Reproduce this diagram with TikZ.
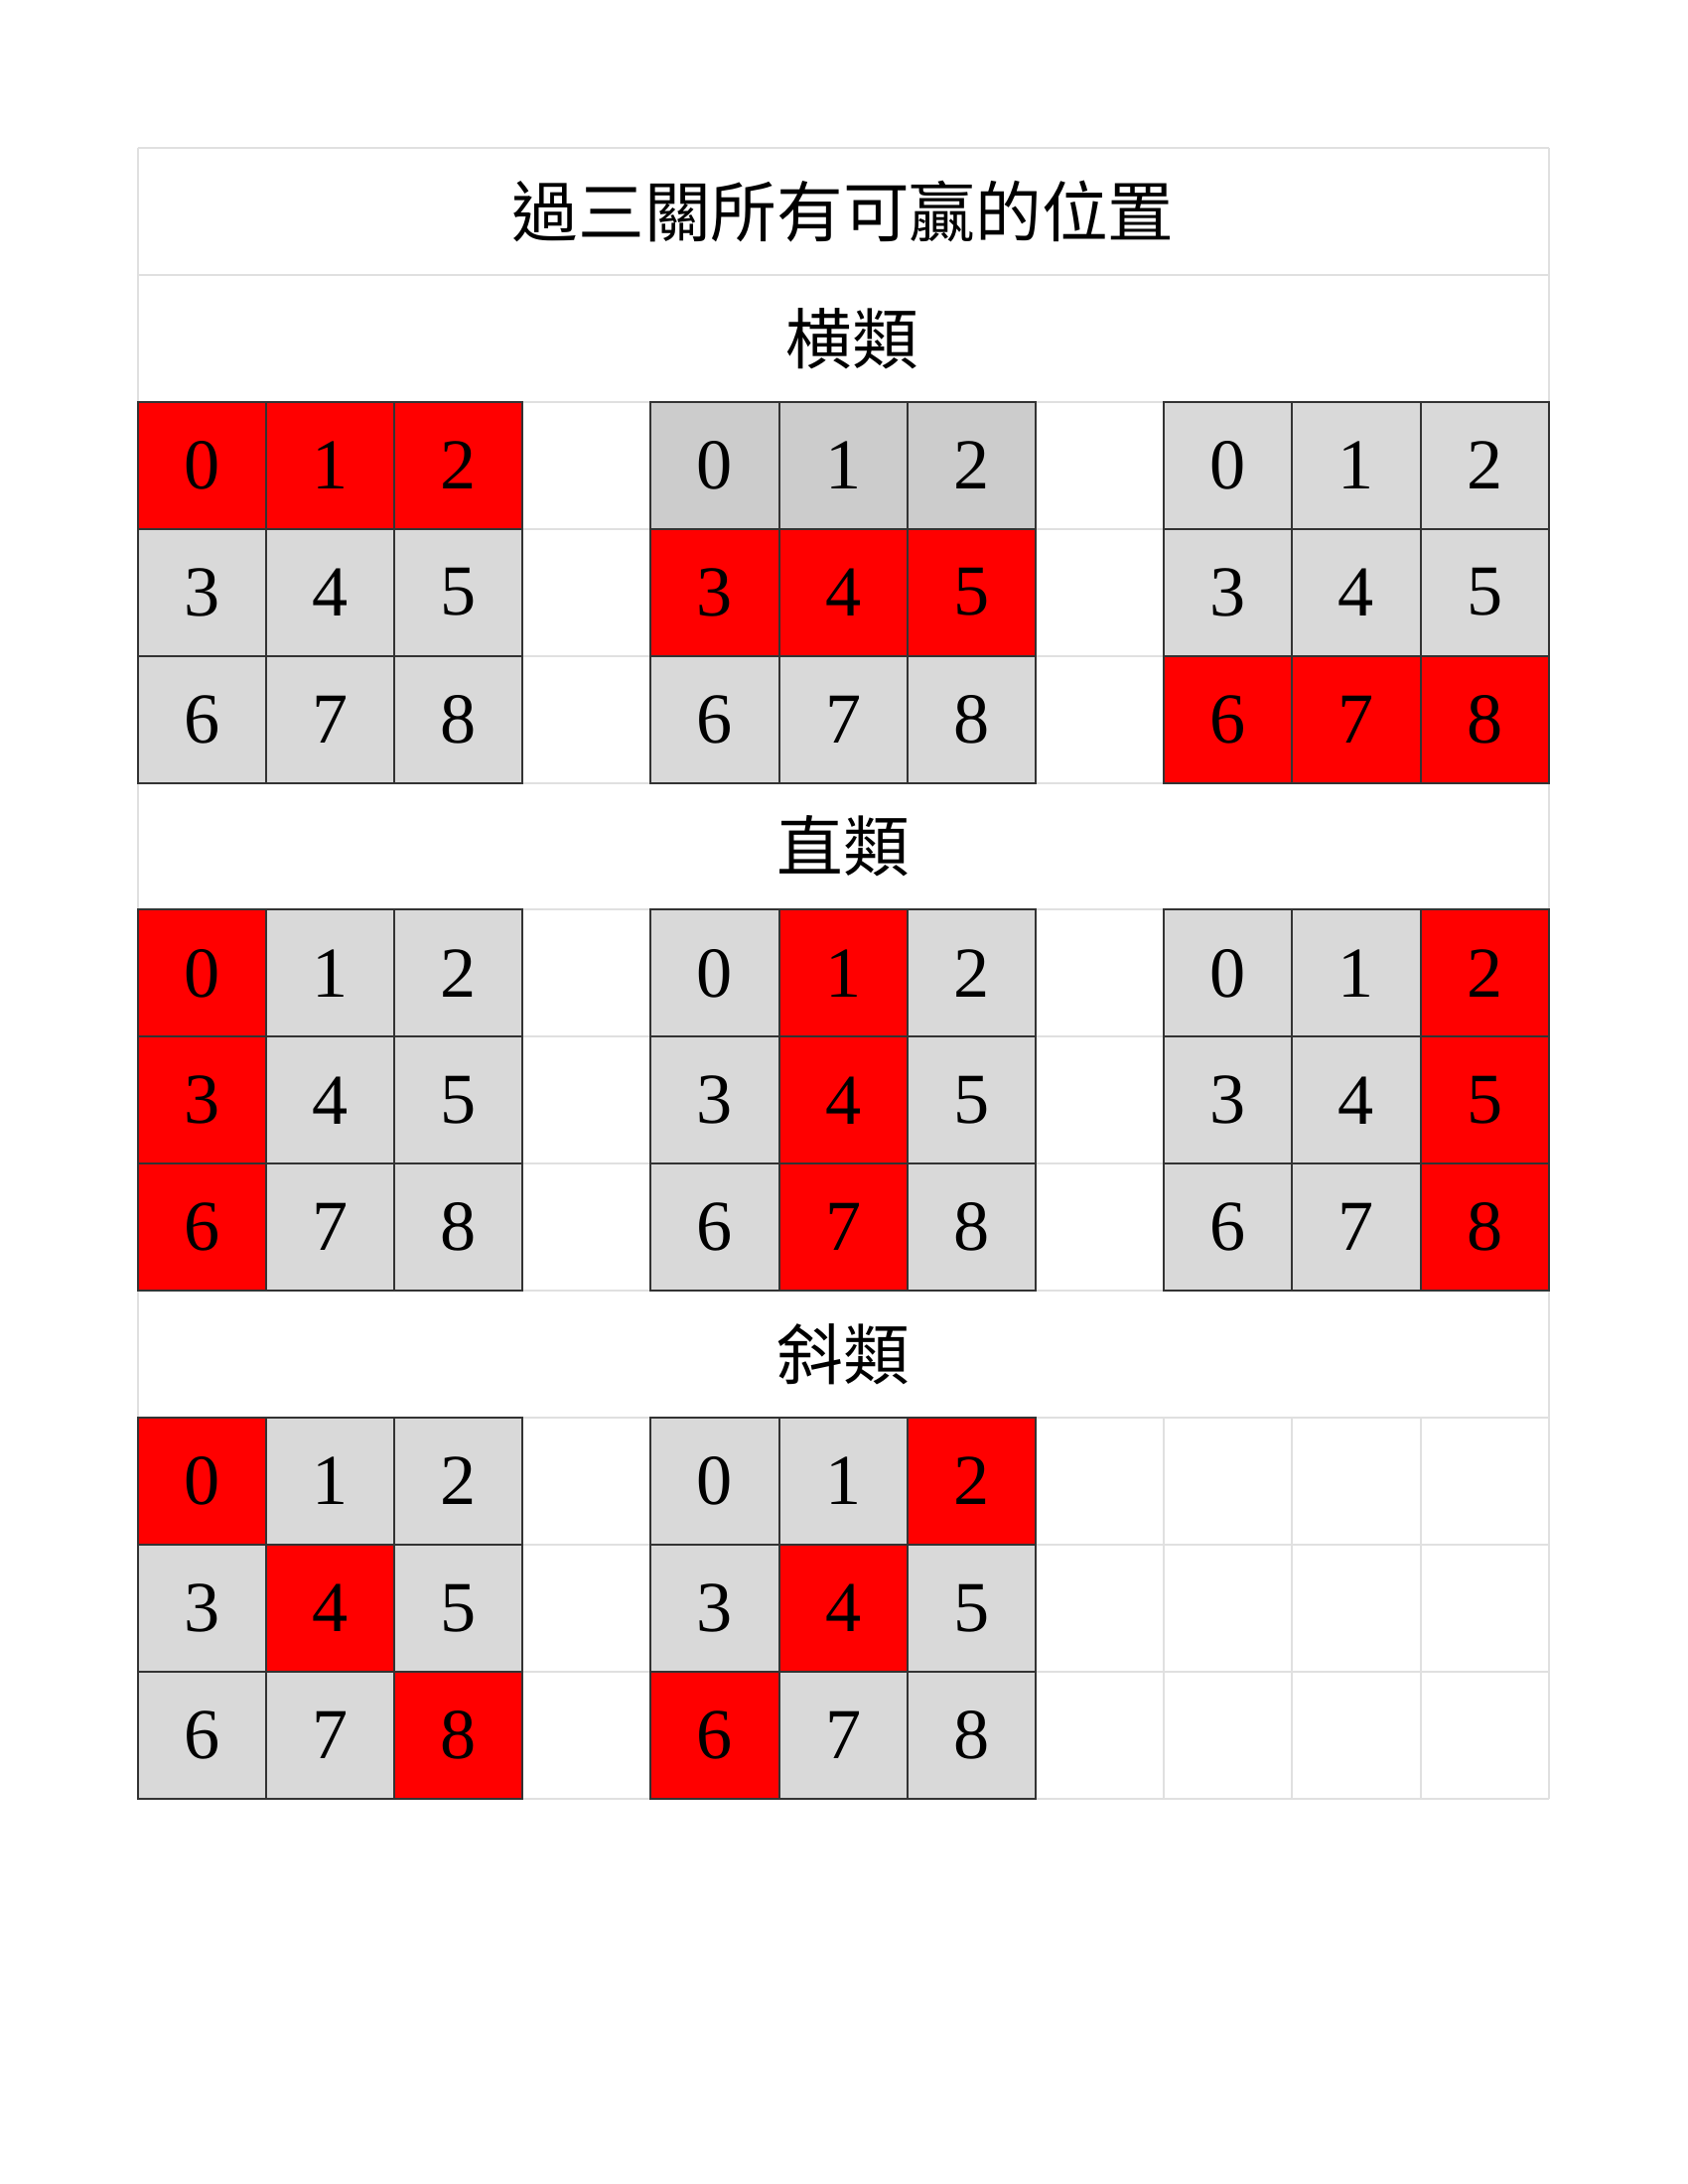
\documentclass[tikz,border=0pt]{standalone}
\usepackage{fontspec}
\setmainfont{Liberation Serif}
\newfontfamily\cjk{Noto Sans CJK TC}
\definecolor{cellred}{HTML}{FF0000}
\definecolor{cellgray}{HTML}{D9D9D9}
\definecolor{cellgrayB}{HTML}{CCCCCC}
\definecolor{lightline}{HTML}{E0E0E0}
\definecolor{darkline}{HTML}{333333}
\tikzset{
  lightrule/.style={draw=lightline,line width=0.72pt},
  cellbox/.style={draw=darkline,line width=0.72pt,rectangle,inner sep=0pt,outer sep=0pt,
    minimum width=46.51pt,minimum height=46.04pt,font=\fontsize{26}{26}\selectfont},
  headtext/.style={font=\cjk\fontsize{24}{24}\selectfont,inner sep=0pt}
}
\newcommand\tttgrid[7]{%
  \foreach \i in {0,...,8}{%
    \pgfmathtruncatemacro\cc{#2+mod(\i,3)}%
    \pgfmathtruncatemacro\rr{#3+int(\i/3)}%
    \def\cf{cellgray}%
    \ifnum\i<3 \def\cf{#7}\fi
    \ifnum\i=#4 \def\cf{cellred}\fi
    \ifnum\i=#5 \def\cf{cellred}\fi
    \ifnum\i=#6 \def\cf{cellred}\fi
    \node[cellbox,fill=\cf] (#1\i) at ({138.5+(\cc+0.5)*129.2},{149+(\rr+0.5)*127.9}) {\i};
  }%
}
\begin{document}
\begin{tikzpicture}[x=0.36pt,y=-0.36pt]
\useasboundingbox (0,0) rectangle (1700,2200);
\fill[white] (0,0) rectangle (1700,2200);
% light table rules
\foreach \r in {0,...,13}{
  \draw[lightrule] (138.5,{149+\r*127.9}) -- (1560,{149+\r*127.9});
}
\draw[lightrule] (138.5,149) -- (138.5,{149+13*127.9});
\draw[lightrule] (1560,149) -- (1560,{149+13*127.9});
\foreach \s in {2,6,10}{
  \foreach \c in {1,...,10}{
    \draw[lightrule] ({138.5+\c*129.2},{149+\s*127.9}) -- ({138.5+\c*129.2},{149+(\s+3)*127.9});
  }
}
% title and headers
\node[headtext] (title) at (849.25,{149+0.5*127.9}) {過三關所有可贏的位置};
\node[headtext] (hrow) at (858,{149+1.5*127.9}) {横類};
\node[headtext] (vcol) at (849.25,{149+5.5*127.9}) {直類};
\node[headtext] (diag) at (849.25,{149+9.5*127.9}) {斜類};
% horizontal wins
\tttgrid{ha}{0}{2}{0}{1}{2}{cellgray}
\tttgrid{hb}{4}{2}{3}{4}{5}{cellgrayB}
\tttgrid{hc}{8}{2}{6}{7}{8}{cellgray}
% vertical wins
\tttgrid{va}{0}{6}{0}{3}{6}{cellgray}
\tttgrid{vb}{4}{6}{1}{4}{7}{cellgray}
\tttgrid{vc}{8}{6}{2}{5}{8}{cellgray}
% diagonal wins
\tttgrid{da}{0}{10}{0}{4}{8}{cellgray}
\tttgrid{db}{4}{10}{2}{4}{6}{cellgray}
\end{tikzpicture}
\end{document}
